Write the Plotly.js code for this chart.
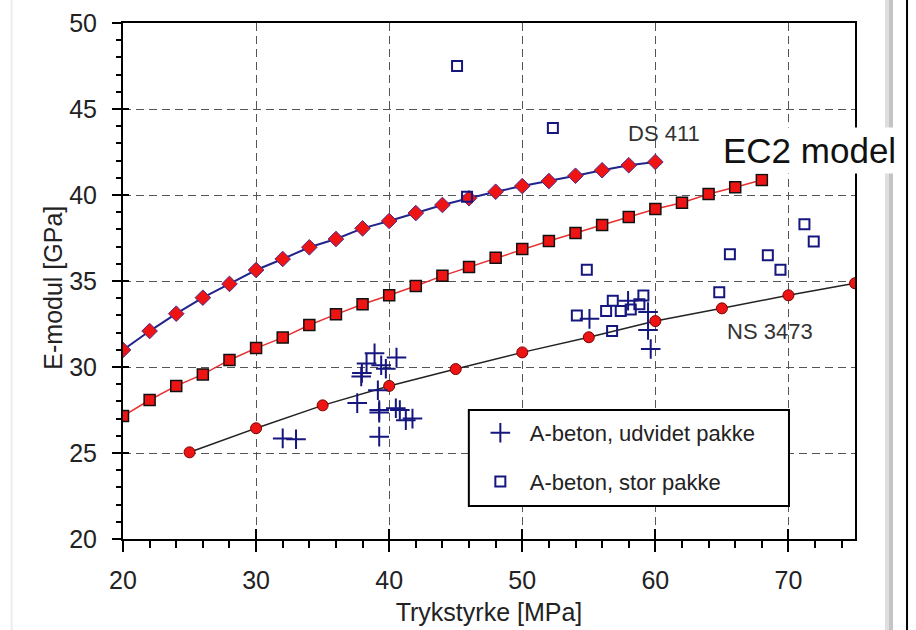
<!DOCTYPE html>
<html><head><meta charset="utf-8">
<script src="https://cdn.plot.ly/plotly-3.0.1.min.js"></script>
<style>html,body{margin:0;padding:0;background:#fff}#chart{width:916px;height:630px}</style>
</head><body><div id="chart"></div>
<script>
// DS 411 model curve
const ds411X = [20,22,24,26,28,30,32,34,36,38,40,42,44,46,48,50,52,54,56,58,60];
const ds411Y = [30.99,32.09,33.10,34.03,34.83,35.64,36.28,36.96,37.44,38.06,38.49,38.95,39.42,39.81,40.19,40.52,40.81,41.12,41.44,41.73,41.92];
// EC2 model curve
const ec2X = [20,22,24,26,28,30,32,34,36,38,40,42,44,46,48,50,52,54,56,58,60,62,64,66,68];
const ec2Y = [27.15,28.08,28.90,29.57,30.41,31.10,31.71,32.44,33.06,33.65,34.17,34.71,35.30,35.81,36.35,36.86,37.33,37.79,38.26,38.72,39.19,39.55,40.06,40.45,40.87];
// NS 3473 model curve
const nsX = [25,30,35,40,45,50,55,60,65,70,75];
const nsY = [25.04,26.44,27.77,28.90,29.88,30.85,31.73,32.67,33.41,34.17,34.87];
// A-beton, udvidet pakke
const udvX = [32.0,33.0,37.6,37.9,37.95,38.3,38.9,39.4,39.75,40.55,39.15,39.25,39.25,40.5,40.8,41.25,41.75,39.25,55.05,57.95,59.45,59.45,59.65];
const udvY = [25.85,25.8,27.9,29.45,29.65,30.2,30.8,30.1,29.9,30.55,28.65,27.5,27.35,27.6,27.5,26.9,27.0,25.95,32.8,33.85,33.2,32.15,31.05];
// A-beton, stor pakke
const storX = [45.1,52.3,45.85,54.85,54.1,56.3,56.8,57.4,58.15,58.8,59.1,56.75,64.8,65.6,68.45,69.4,71.2,71.9];
const storY = [47.5,43.9,39.9,35.65,33.0,33.25,33.85,33.25,33.35,33.65,34.15,32.1,34.35,36.55,36.5,35.65,38.3,37.3];
// labels
const xTitle = 'Trykstyrke [MPa]';
const yTitle = 'E-modul [GPa]';
const nameUdv = 'A-beton, udvidet pakke';
const nameStor = 'A-beton, stor pakke';
const lblDS = 'DS 411';
const lblNS = 'NS 3473';
const lblEC2 = 'EC2 model';

const FONT = '"Liberation Sans", Arial, Helvetica, sans-serif';
const NAVY = '#16167f';
const RED = '#ee1414';

const traces = [
  {x: ec2X, y: ec2Y, mode: 'lines+markers', line: {color: '#e83030', width: 1.5},
   marker: {symbol: 'square', size: 11, color: RED, line: {color: '#111', width: 1.5}},
   showlegend: false, hoverinfo: 'skip'},
  {x: nsX, y: nsY, mode: 'lines+markers', line: {color: '#222', width: 1.5},
   marker: {symbol: 'circle', size: 11, color: RED, line: {color: '#7a0000', width: 1}},
   showlegend: false, hoverinfo: 'skip'},
  {x: ds411X, y: ds411Y, mode: 'lines+markers', line: {color: '#23238c', width: 2},
   marker: {symbol: 'diamond', size: 12, color: RED, line: {color: '#4a2a8a', width: 1}},
   showlegend: false, hoverinfo: 'skip'},
  {x: udvX, y: udvY, mode: 'markers', name: nameUdv, legendgroup: 'a',
   marker: {symbol: 'cross-thin-open', size: 14, color: NAVY, line: {color: NAVY, width: 2}}},
  {x: storX, y: storY, mode: 'markers', name: nameStor, legendgroup: 'b',
   marker: {symbol: 'square-open', size: 10, color: NAVY, line: {color: NAVY, width: 2}}},
  {x: [], y: [], xaxis: 'x2', yaxis: 'y2', showlegend: false, hoverinfo: 'skip'}
];

const px2paperX = p => (p - 123.3) / 731.7;
const px2paperY = p => (539 - p) / 516;
const layout = {
  width: 916, height: 630,
  margin: {l: 123, r: 61, t: 23, b: 91},
  paper_bgcolor: '#fff', plot_bgcolor: '#fff',
  font: {family: FONT, color: '#222'},
  xaxis: {
    range: [20, 75], tick0: 0, dtick: 10,
    showline: true, linecolor: '#000', linewidth: 2, mirror: true,
    ticks: 'outside', ticklen: 11, tickwidth: 2, tickcolor: '#000',
    minor: {dtick: 2, tick0: 0, ticks: 'outside', ticklen: 7, tickwidth: 2, tickcolor: '#000', showgrid: false},
    showgrid: true, gridcolor: '#555', gridwidth: 1, griddash: '8px,5px',
    zeroline: false,
    ticklabelstandoff: 7,
    tickfont: {family: FONT, size: 25, color: '#222'},
    title: {text: xTitle, font: {family: FONT, size: 25, color: '#222'}, standoff: 10}
  },
  yaxis: {
    range: [20, 50], tick0: 0, dtick: 5,
    showline: true, linecolor: '#000', linewidth: 2, mirror: true,
    ticks: 'outside', ticklen: 9, tickwidth: 2, tickcolor: '#000',
    minor: {dtick: 1, tick0: 0, ticks: 'outside', ticklen: 5, tickwidth: 2, tickcolor: '#000', showgrid: false},
    showgrid: true, gridcolor: '#555', gridwidth: 1, griddash: '8px,5px',
    zeroline: false,
    ticklabelstandoff: 10,
    tickfont: {family: FONT, size: 25, color: '#222'}
  },
  xaxis2: {
    overlaying: 'x', anchor: 'y', side: 'bottom', range: [20, 75], tick0: 0, dtick: 10,
    ticks: 'inside', ticklen: 10, tickwidth: 2, tickcolor: '#000',
    showticklabels: false, showgrid: false, showline: false, zeroline: false
  },
  yaxis2: {
    overlaying: 'y', anchor: 'x', side: 'left', range: [20, 50], tick0: 0, dtick: 5,
    ticks: 'inside', ticklen: 6, tickwidth: 2, tickcolor: '#000',
    showticklabels: false, showgrid: false, showline: false, zeroline: false
  },
  legend: {
    x: px2paperX(469), y: 0.25, xanchor: 'left', yanchor: 'top',
    bgcolor: 'rgba(0,0,0,0)', bordercolor: 'rgba(0,0,0,0)', borderwidth: 2,
    font: {family: FONT, size: 22, color: '#222'},
    traceorder: 'grouped', tracegroupgap: 17, itemwidth: 49
  },
  annotations: [
    {xref: 'paper', yref: 'paper', x: px2paperX(53), y: px2paperY(288), text: yTitle, textangle: -90,
     showarrow: false, xanchor: 'center', yanchor: 'middle',
     font: {family: FONT, size: 25, color: '#222'}},
    {xref: 'x', yref: 'y', x: 60.67, y: 43.6, text: lblDS, showarrow: false,
     font: {family: FONT, size: 22, color: '#333'}},
    {xref: 'x', yref: 'y', x: 68.63, y: 32.09, text: lblNS, showarrow: false,
     font: {family: FONT, size: 22, color: '#333'}},
    {xref: 'x', yref: 'y', x: 71.55, y: 42.56, text: lblEC2, showarrow: false,
     bgcolor: '#fff', borderpad: 3,
     font: {family: FONT, size: 35, color: '#111'}}
  ],
  shapes: [
    {type: 'rect', xref: 'paper', yref: 'paper', layer: 'above',
     x0: px2paperX(469), x1: px2paperX(789), y0: px2paperY(506), y1: px2paperY(410),
     fillcolor: '#fff', line: {color: '#000', width: 2}},
    {type: 'line', xref: 'paper', yref: 'paper', x0: px2paperX(12), x1: px2paperX(12), y0: -0.2, y1: 1.1,
     line: {color: '#ececec', width: 2}},
    {type: 'rect', xref: 'paper', yref: 'paper', x0: px2paperX(885), x1: px2paperX(889), y0: -0.2, y1: 1.1,
     fillcolor: '#dedede', line: {width: 0}},
    {type: 'rect', xref: 'paper', yref: 'paper', x0: px2paperX(889), x1: px2paperX(893), y0: -0.2, y1: 1.1,
     fillcolor: '#c4c4c4', line: {width: 0}},
    {type: 'line', xref: 'paper', yref: 'paper', x0: px2paperX(907), x1: px2paperX(907), y0: -0.2, y1: 1.1,
     line: {color: '#000', width: 2}}
  ]
};

Plotly.newPlot('chart', traces, layout, {displayModeBar: false, staticPlot: true});
</script>
</body></html>
